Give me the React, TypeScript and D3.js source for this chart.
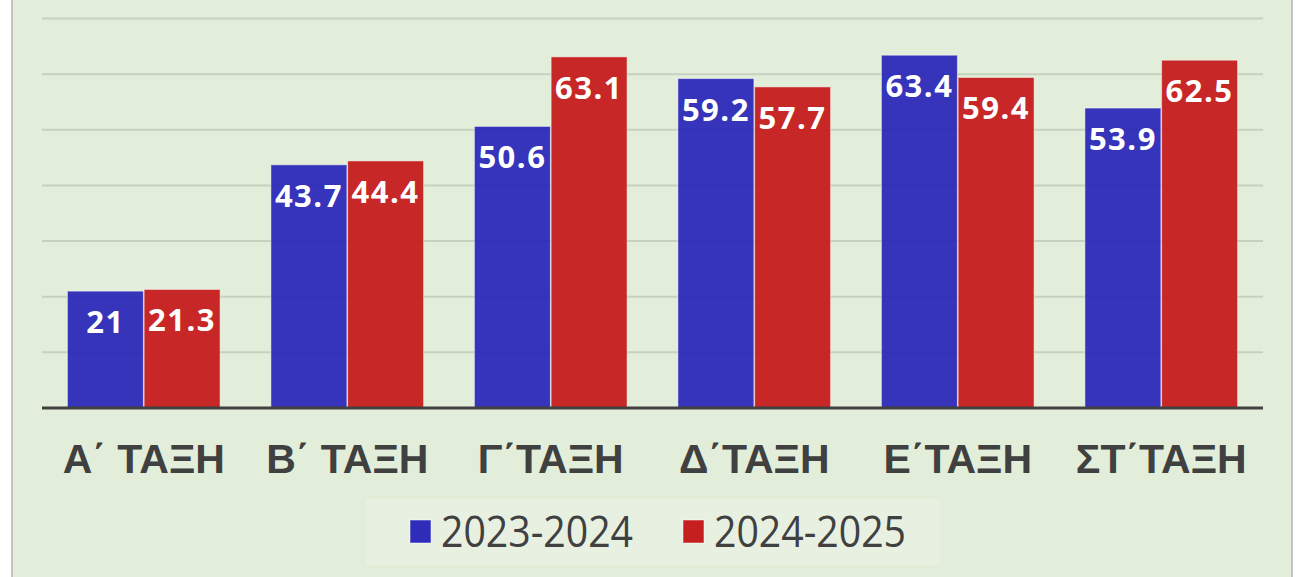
import React from "react";
import * as d3 from "d3";

const categories = ["Α΄ ΤΑΞΗ", "Β΄ ΤΑΞΗ", "Γ΄ΤΑΞΗ", "Δ΄ΤΑΞΗ", "Ε΄ΤΑΞΗ", "ΣΤ΄ΤΑΞΗ"];
const seriesNames = ["2023-2024", "2024-2025"];
const values2023 = [21, 43.7, 50.6, 59.2, 63.4, 53.9];
const values2024 = [21.3, 44.4, 63.1, 57.7, 59.4, 62.5];
const gridTicks = [10, 20, 30, 40, 50, 60, 70];
const colors = ["#2e2cb8", "#c61f1f"];

const W = 1297;
const H = 577;

export default function App() {
  const x = d3.scaleBand<string>().domain(categories).range([42, 1263]).paddingInner(0.25).paddingOuter(0.125);
  const xs = d3.scaleBand<string>().domain(seriesNames).range([0, x.bandwidth()]).paddingInner(0.01);
  const y = d3.scaleLinear().domain([0, 70]).range([408, 18.5]);
  const series = [values2023, values2024];
  const legendX = d3.scaleOrdinal<string, number>().domain(seriesNames).range([410, 683]);

  return (
    <div style={{ position: "fixed", left: 0, top: 0, width: W, height: H, background: "#fff" }}>
      <svg width={W} height={H} style={{ display: "block" }}>
        <rect x={12} y={-3} width={1280} height={H + 6} fill="#e2eed9" stroke="#c3c3c3" strokeWidth={2} />
        {gridTicks.map((t) => (
          <line key={t} x1={42} x2={1263} y1={y(t)} y2={y(t)} stroke="#c6d1bf" strokeWidth={2} />
        ))}
        {categories.map((c, i) => (
          <g key={c} transform={`translate(${x(c)},0)`}>
            {series.map((vals, s) => {
              const bx = xs(seriesNames[s])!;
              const top = y(vals[i]);
              return (
                <g key={s}>
                  <rect
                    x={bx}
                    y={top}
                    width={xs.bandwidth()}
                    height={y(0) - top}
                    fill={colors[s]}
                    fillOpacity={0.96}
                    stroke="#ffffff"
                    strokeOpacity={0.45}
                    strokeWidth={1}
                  />
                  <text
                    x={bx + xs.bandwidth() / 2}
                    y={top + 42}
                    textAnchor="middle"
                    fill="#ffffff"
                    fontFamily="'Open Sans', sans-serif"
                    fontWeight={700}
                    fontSize={31}
                    letterSpacing={1.5}
                  >
                    {String(vals[i])}
                  </text>
                </g>
              );
            })}
            <text
              x={x.bandwidth() / 2}
              y={473}
              textAnchor="middle"
              fill="#404040"
              fontFamily="'Liberation Sans', Arial, sans-serif"
              fontWeight={700}
              fontSize={41}
            >
              {c}
            </text>
          </g>
        ))}
        <line x1={42} x2={1263} y1={y(0)} y2={y(0)} stroke="#404040" strokeWidth={3} />
        <rect x={366} y={499} width={574} height={66} fill="#e8f1e1" />
        {seriesNames.map((n, s) => {
          const lx = legendX(n);
          return (
            <g key={n}>
              <rect x={lx} y={520} width={21} height={23} fill={colors[s]} stroke="#ffffff" strokeOpacity={0.5} strokeWidth={1} />
              <text
                x={lx + 31}
                y={547}
                fill="#404040"
                fontFamily="'Open Sans', sans-serif"
                fontSize={44}
                textLength={192}
                lengthAdjust="spacingAndGlyphs"
              >
                {n}
              </text>
            </g>
          );
        })}
      </svg>
    </div>
  );
}
